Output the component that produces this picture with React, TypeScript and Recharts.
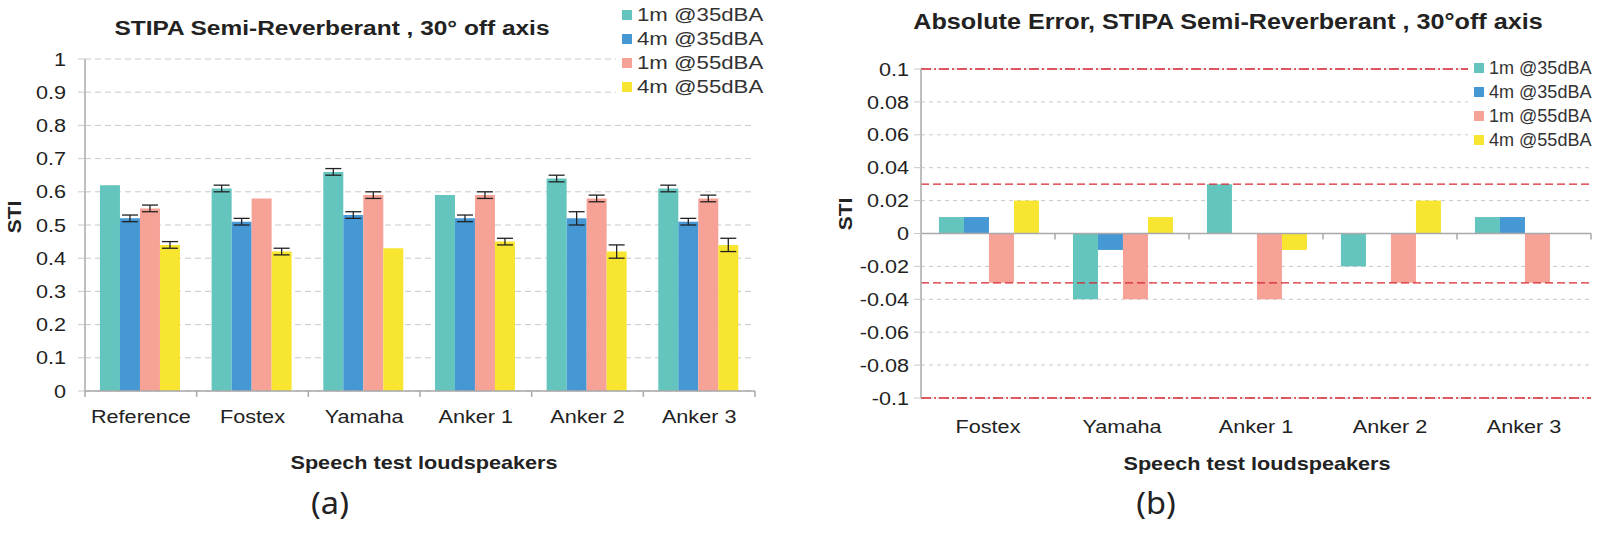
import React from "react"
import { BarChart, Bar, XAxis, YAxis, CartesianGrid, ErrorBar, ReferenceLine } from "recharts"

// series (shared by both panels)
const seriesNames = ["1m @35dBA", "4m @35dBA", "1m @55dBA", "4m @55dBA"]
const seriesColors = ["#63c5bd", "#4598d3", "#f6a296", "#f7e52f"]

// (a) STI per loudspeaker
const stiSpeakers = ["Reference", "Fostex", "Yamaha", "Anker 1", "Anker 2", "Anker 3"]
const sti1m35 = [0.62, 0.61, 0.66, 0.59, 0.64, 0.61]
const sti4m35 = [0.52, 0.51, 0.53, 0.52, 0.52, 0.51]
const sti1m55 = [0.55, 0.58, 0.59, 0.59, 0.58, 0.58]
const sti4m55 = [0.44, 0.42, 0.43, 0.45, 0.42, 0.44]
const err1m35 = [0, 0.01, 0.01, 0, 0.01, 0.01]
const err4m35 = [0.01, 0.01, 0.01, 0.01, 0.02, 0.01]
const err1m55 = [0.01, 0, 0.01, 0.01, 0.01, 0.01]
const err4m55 = [0.01, 0.01, 0, 0.01, 0.02, 0.02]
const stiTicks = [0, 0.1, 0.2, 0.3, 0.4, 0.5, 0.6, 0.7, 0.8, 0.9, 1]

// (b) absolute error vs reference
const errSpeakers = ["Fostex", "Yamaha", "Anker 1", "Anker 2", "Anker 3"]
const diff1m35 = [0.01, -0.04, 0.03, -0.02, 0.01]
const diff4m35 = [0.01, -0.01, 0, 0, 0.01]
const diff1m55 = [-0.03, -0.04, -0.04, -0.03, -0.03]
const diff4m55 = [0.02, 0.01, -0.01, 0.02, 0]
const errTicks = [-0.1, -0.08, -0.06, -0.04, -0.02, 0, 0.02, 0.04, 0.06, 0.08, 0.1]
const outerLimit = 0.1
const innerLimit = 0.03

const stiData = stiSpeakers.map((name, i) => ({
  name,
  s0: sti1m35[i], s1: sti4m35[i], s2: sti1m55[i], s3: sti4m55[i],
  e0: err1m35[i], e1: err4m35[i], e2: err1m55[i], e3: err4m55[i],
}))
const errData = errSpeakers.map((name, i) => ({
  name, s0: diff1m35[i], s1: diff4m35[i], s2: diff1m55[i], s3: diff4m55[i],
}))

const FONT = '"Liberation Sans", Arial, sans-serif'
const STRETCH = 1.17
const AXIS = "#a9a9a9"
const GRID = "#c9c9c9"
const RED = "#d6262e"
const TEXT = "#222"

const fmt = (v: number) => String(Number(v.toFixed(2)))

// plot boxes (page px)
const A = { left: 85, right: 755, top: 59, bottom: 391 }
const B = { left: 921, right: 1591, top: 69, bottom: 398 }

const YTick = (props: any) => {
  const { x, y, payload } = props
  return (
    <text transform={`translate(${x},${y}) scale(${STRETCH},1)`} textAnchor="end" dy="0.36em"
      fontSize={18.5} fill={TEXT} fontFamily={FONT}>
      {fmt(payload.value)}
    </text>
  )
}

const makeXTick = (count: number, band: number, base: number, marks: boolean) => (props: any) => {
  const { x, y, payload, index } = props
  const half = band / 2
  return (
    <g>
      {marks && <line x1={x - half} x2={x - half} y1={y} y2={y + 6} stroke={AXIS} strokeWidth={1.5} />}
      {marks && index === count - 1 && <line x1={x + half} x2={x + half} y1={y} y2={y + 6} stroke={AXIS} strokeWidth={1.5} />}
      <text transform={`translate(${x},${y + base}) scale(${STRETCH},1)`} textAnchor="middle"
        fontSize={18.5} fill={TEXT} fontFamily={FONT}>
        {payload.value}
      </text>
    </g>
  )
}

const ZeroLine = (props: any) => {
  const { x1, y1, x2 } = props
  const step = (x2 - x1) / errSpeakers.length
  return (
    <g>
      <line x1={x1} y1={y1} x2={x2} y2={y1} stroke={AXIS} strokeWidth={1.5} />
      {errSpeakers.map((_, i) => (
        <line key={i} x1={x1 + step * (i + 1)} x2={x1 + step * (i + 1)} y1={y1} y2={y1 + 6} stroke={AXIS} strokeWidth={1.5} />
      ))}
    </g>
  )
}

function Txt({ x, y, size, bold, rotate, family, stretch, children }: any) {
  const s = stretch ?? STRETCH
  const tf = rotate
    ? `translate(-50%,-50%) rotate(-90deg) scaleX(1.1)`
    : `translate(-50%,-50%) scaleX(${s})`
  return (
    <div style={{
      position: "absolute", left: x, top: y, transform: tf, whiteSpace: "nowrap",
      fontFamily: family || FONT, fontSize: size, fontWeight: bold ? 700 : 400, color: TEXT, lineHeight: 1,
    }}>
      {children}
    </div>
  )
}

function LegendBox({ x, y, size, stretch, width }: { x: number; y: number; size: number; stretch: number; width: number }) {
  return (
    <div style={{ position: "absolute", left: x - 6, top: y - 12, width, background: "#fff", padding: "0 0 0 6px" }}>
      {seriesNames.map((n, i) => (
        <div key={n} style={{ height: 24, display: "flex", alignItems: "center" }}>
          <span style={{ width: 10, height: 10, background: seriesColors[i], marginRight: 5, flex: "none" }} />
          <span style={{
            fontFamily: FONT, fontSize: size, color: "#333", display: "inline-block",
            transform: `scaleX(${stretch})`, transformOrigin: "left center", whiteSpace: "nowrap",
          }}>{n}</span>
        </div>
      ))}
    </div>
  )
}

export default function App() {
  const wA = 800
  const wB = 801
  const H = 534
  return (
    <div style={{ position: "absolute", left: 0, top: 0, width: 1601, height: H, background: "#fff", overflow: "hidden" }}>
      <div style={{ position: "absolute", left: 0, top: 0 }}>
        <BarChart width={wA} height={H} data={stiData} barCategoryGap="13.4%" barGap={0}
          margin={{ top: A.top, right: wA - A.right, bottom: H - A.bottom - 30, left: 0 }}>
          <CartesianGrid vertical={false} stroke={GRID} strokeDasharray="6 4" />
          <XAxis dataKey="name" height={30} tickSize={0} tickMargin={0} interval={0}
            axisLine={{ stroke: AXIS, strokeWidth: 1.5 }}
            tick={makeXTick(stiSpeakers.length, (A.right - A.left) / stiSpeakers.length, 32, true)} />
          <YAxis width={A.left} domain={[0, 1]} ticks={stiTicks} interval={0} tickSize={7} tickMargin={12}
            axisLine={{ stroke: AXIS, strokeWidth: 1.5 }} tickLine={{ stroke: GRID }} tick={<YTick />} />
          {["s0", "s1", "s2", "s3"].map((k, i) => (
            <Bar key={k} dataKey={k} name={seriesNames[i]} fill={seriesColors[i]} isAnimationActive={false}>
              <ErrorBar dataKey={`e${i}`} width={8} stroke="#222" strokeWidth={1.3} direction="y" isAnimationActive={false} />
            </Bar>
          ))}
        </BarChart>
      </div>

      <div style={{ position: "absolute", left: wA, top: 0 }}>
        <BarChart width={wB} height={H} data={errData} barCategoryGap="13.4%" barGap={0}
          margin={{ top: B.top, right: 1601 - B.right, bottom: H - B.bottom - 30, left: 0 }}>
          <CartesianGrid vertical={false} stroke={GRID} strokeDasharray="4 4" />
          <XAxis dataKey="name" height={30} tickSize={0} tickMargin={0} interval={0} axisLine={false}
            tick={makeXTick(errSpeakers.length, (B.right - B.left) / errSpeakers.length, 35, false)} />
          <YAxis width={B.left - wA} domain={[-outerLimit, outerLimit]} ticks={errTicks} interval={0}
            tickSize={7} tickMargin={5} axisLine={{ stroke: AXIS, strokeWidth: 1.5 }} tickLine={{ stroke: GRID }}
            tick={<YTick />} />
          {["s0", "s1", "s2", "s3"].map((k, i) => (
            <Bar key={k} dataKey={k} name={seriesNames[i]} fill={seriesColors[i]} isAnimationActive={false} />
          ))}
          <ReferenceLine y={0} shape={ZeroLine} />
          <ReferenceLine y={outerLimit} stroke={RED} strokeWidth={1.4} strokeDasharray="10 3 2 3" />
          <ReferenceLine y={-outerLimit} stroke={RED} strokeWidth={1.4} strokeDasharray="10 3 2 3" />
          <ReferenceLine y={innerLimit} stroke={RED} strokeWidth={1.4} strokeDasharray="8 4" />
          <ReferenceLine y={-innerLimit} stroke={RED} strokeWidth={1.4} strokeDasharray="8 4" />
        </BarChart>
      </div>

      <LegendBox x={622} y={15} size={18.5} stretch={1.2} width={150} />
      <LegendBox x={1474} y={68} size={17.5} stretch={1.03} width={128} />

      <Txt x={332} y={28} size={20.9} bold>STIPA Semi-Reverberant ,  30° off axis</Txt>
      <Txt x={1228} y={23} size={21.5} bold>Absolute Error, STIPA Semi-Reverberant , 30°off axis</Txt>
      <Txt x={14} y={217} size={19} bold rotate>STI</Txt>
      <Txt x={845} y={214} size={19} bold rotate>STI</Txt>
      <Txt x={424} y={463} size={18.5} bold>Speech test loudspeakers</Txt>
      <Txt x={1257} y={464} size={18.5} bold>Speech test loudspeakers</Txt>
      <Txt x={330} y={502} size={31} stretch={1.05} family='"Noto Sans", sans-serif'>(a)</Txt>
      <Txt x={1156} y={502} size={31} stretch={1.05} family='"Noto Sans", sans-serif'>(b)</Txt>
    </div>
  )
}
